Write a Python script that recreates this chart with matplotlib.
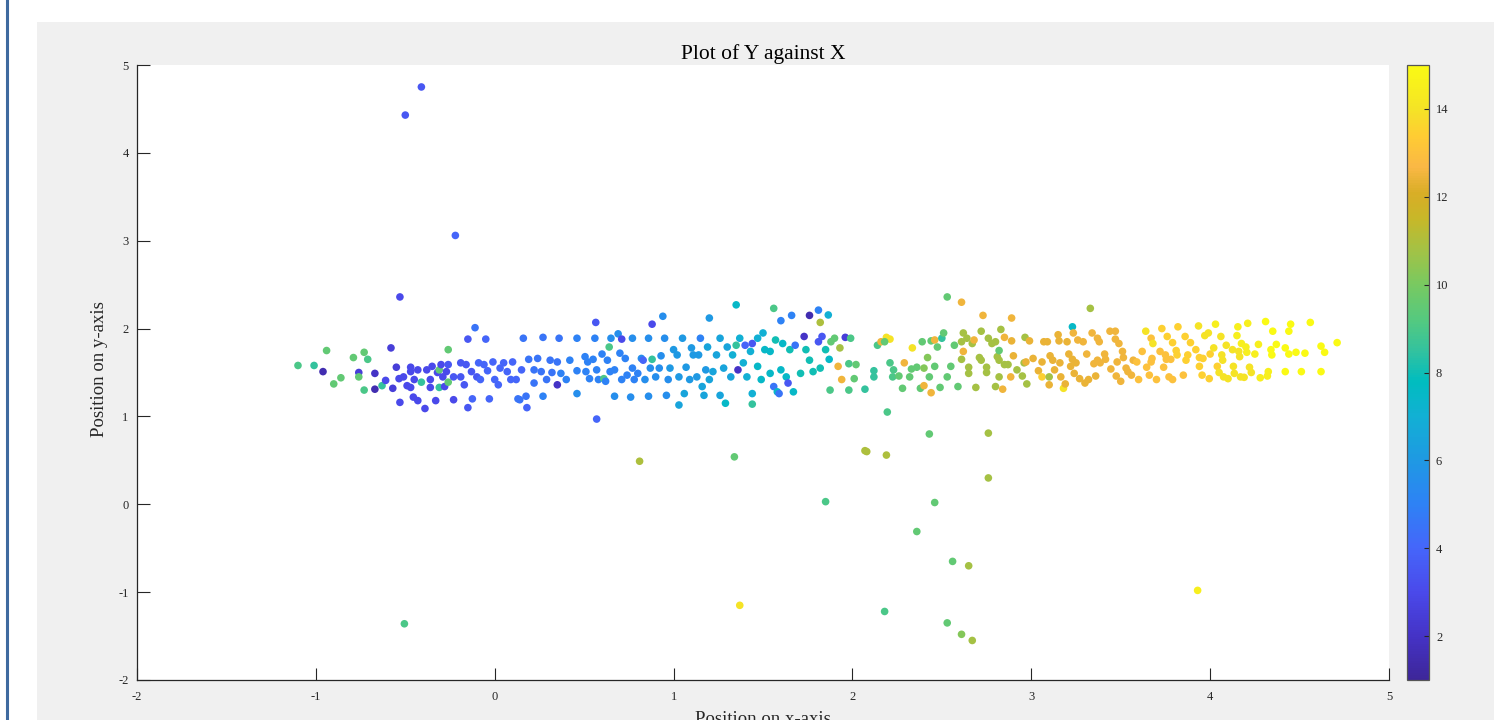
import matplotlib
matplotlib.use("Agg")
import matplotlib.pyplot as plt
from matplotlib.colors import LinearSegmentedColormap
from matplotlib.patches import Rectangle
from matplotlib.lines import Line2D
import numpy as np

plt.rcParams['font.family'] = ['Liberation Serif', 'DejaVu Serif']
plt.rcParams['axes.unicode_minus'] = False

# ---------------- data ----------------
title = "Plot of Y against X"
x_label = "Position on x-axis"
y_label = "Position on y-axis"
x_ticks = [-2, -1, 0, 1, 2, 3, 4, 5]
y_ticks = [-2, -1, 0, 1, 2, 3, 4, 5]
cbar_ticks = [2, 4, 6, 8, 10, 12, 14]

# left part of the band
x_a = [-0.53, -1.10, -1.01, -0.94, -0.96, -0.90, -0.86, -0.79, -0.73, -0.71, -0.76, -0.76, -0.67, -0.67,
       -0.73, -0.63, -0.61, -0.58, -0.57, -0.55, -0.53, -0.535, -0.51, -0.49, -0.47, -0.47, -0.455, -0.43,
       -0.43, -0.47, -0.45, -0.41, -0.39, -0.38, -0.36, -0.36, -0.35, -0.33, -0.32, -0.31, -0.30, -0.31,
       -0.29, -0.28, -0.26, -0.26, -0.26, -0.27, -0.23, -0.23, -0.19, -0.19, -0.17, -0.16, -0.15, -0.15,
       -0.13, -0.125, -0.11, -0.10, -0.09, -0.08, -0.06, -0.05, -0.04, -0.03, -0.01, 0.00, 0.02, 0.03,
       0.05, 0.07, 0.09, 0.10, 0.12, 0.13, 0.14, 0.16, 0.15, 0.175, 0.18, 0.19, 0.22, 0.22, 0.24, 0.27,
       0.27, 0.26, 0.29, 0.31, 0.32, 0.35, 0.35, 0.36, 0.37, 0.40, 0.42, 0.46, 0.46, 0.46]
y_a = [2.36, 1.58, 1.58, 1.75, 1.51, 1.37, 1.44, 1.67, 1.73, 1.65, 1.50, 1.45, 1.49, 1.31,
       1.30, 1.35, 1.41, 1.78, 1.32, 1.56, 1.16, 1.43, 1.45, 1.35, 1.56, 1.51, 1.22, 1.18,
       1.53, 1.33, 1.42, 1.39, 1.09, 1.53, 1.42, 1.33, 1.57, 1.18, 1.50, 1.53, 1.59, 1.33,
       1.45, 1.34, 1.76, 1.59, 1.39, 1.51, 1.19, 1.45, 1.61, 1.45, 1.36, 1.59, 1.88, 1.10,
       1.51, 1.20, 2.01, 1.45, 1.61, 1.42, 1.59, 1.88, 1.52, 1.20, 1.62, 1.42, 1.36, 1.55,
       1.61, 1.51, 1.42, 1.62, 1.42, 1.20, 1.19, 1.89, 1.53, 1.23, 1.10, 1.65, 1.53, 1.38, 1.66, 1.90,
       1.23, 1.51, 1.42, 1.64, 1.50, 1.62, 1.36, 1.89, 1.49, 1.42, 1.64, 1.89, 1.52, 1.26]
c_a = [3, 9, 8.5, 9.5, 1.5, 9.5, 9.5, 9.5, 9.5, 9, 2.5, 9.5, 2, 1.5,
       9, 8.5, 3, 2.5, 2.5, 2.5, 3, 3, 3, 3, 3, 3, 3, 3,
       3, 3, 3, 8.5, 3, 3, 3, 3, 3, 3, 3, 9.5, 3, 8.5,
       3, 3, 9.5, 3.5, 9.5, 3, 3, 3.5, 3.5, 3.5, 3.5, 3.5, 3.5, 3.5,
       3.5, 4, 4.5, 3.5, 4, 4, 4, 4, 4, 4, 4, 4, 4, 4,
       4, 4, 4, 4, 4, 4.5, 4.5, 4.5, 4, 4.5, 4, 4.5, 4.5, 4.5, 4.5, 4.5,
       5, 4.5, 4.5, 4.5, 4.5, 4.5, 2, 4.5, 5, 5, 5, 5, 5, 5.5]

# middle part of the band
x_b = [0.565, 0.57, 0.56, 0.505, 0.52, 0.55, 0.51, 0.53, 0.57, 0.58, 0.61, 0.60, 0.62, 0.63, 0.64,
       0.65, 0.645, 0.67, 0.67, 0.69, 0.70, 0.71, 0.71, 0.73, 0.74, 0.76, 0.77, 0.77, 0.78, 0.80,
       0.82, 0.83, 0.84, 0.86, 0.86, 0.87, 0.88, 0.88, 0.90, 0.92, 0.93, 0.94, 0.95, 0.96, 0.97,
       0.98, 1.00, 1.02, 1.03, 1.03, 1.05, 1.06, 1.07, 1.09, 1.10, 1.11, 1.13, 1.14, 1.15, 1.16,
       1.17, 1.18, 1.19, 1.20, 1.20, 1.22, 1.24, 1.26, 1.26, 1.28, 1.29, 1.30, 1.32, 1.33, 1.35,
       1.35, 1.36, 1.37, 1.39, 1.40, 1.41, 1.43, 1.44, 1.44, 1.44, 1.47, 1.47, 1.49, 1.50, 1.51,
       1.54, 1.54, 1.56, 1.56, 1.57, 1.58, 1.59, 1.60, 1.60, 1.61, 1.63, 1.64, 1.65, 1.66, 1.67,
       1.68, 1.71, 1.73, 1.74, 1.76, 1.76, 1.78, 1.81, 1.81, 1.82, 1.82, 1.83, 1.85, 1.865, 1.87,
       1.875, 1.88, 1.90, 1.92, 1.93, 1.94, 1.96, 1.98, 1.98, 1.99, 2.02, 2.01, 2.14]
y_b = [2.07, 0.97, 1.89, 1.68, 1.62, 1.65, 1.51, 1.43, 1.53, 1.42, 1.43, 1.71, 1.40, 1.64, 1.79,
       1.89, 1.51, 1.53, 1.23, 1.94, 1.72, 1.88, 1.42, 1.66, 1.47, 1.22, 1.89, 1.55, 1.42, 1.49,
       1.66, 1.64, 1.42, 1.89, 1.23, 1.55, 2.05, 1.65, 1.45, 1.55, 1.69, 2.14, 1.89, 1.24, 1.42,
       1.55, 1.76, 1.70, 1.45, 1.13, 1.89, 1.26, 1.56, 1.42, 1.78, 1.70, 1.45, 1.70, 1.89, 1.34,
       1.24, 1.53, 1.79, 2.12, 1.42, 1.51, 1.70, 1.89, 1.24, 1.55, 1.15, 1.79, 1.45, 1.70, 2.27,
       1.81, 1.53, 1.89, 1.61, 1.81, 1.45, 1.74, 1.26, 1.83, 1.14, 1.89, 1.57, 1.42, 1.95, 1.76,
       1.74, 1.49, 1.34, 2.23, 1.87, 1.28, 1.26, 2.09, 1.53, 1.83, 1.45, 1.38, 1.76, 2.15, 1.28,
       1.81, 1.49, 1.91, 1.76, 2.15, 1.64, 1.51, 2.21, 1.85, 1.55, 2.07, 1.91, 1.76, 2.155, 1.65,
       1.30, 1.85, 1.89, 1.57, 1.78, 1.42, 1.90, 1.60, 1.30, 1.89, 1.59, 1.43, 1.81]
c_b = [3.5, 4, 5, 5, 5, 5, 5, 5, 5, 5, 9, 5, 5, 5, 9,
       5.5, 5, 5, 5.5, 5.5, 5, 3, 5, 5, 5, 5.5, 5.5, 5, 5, 5,
       5.5, 4, 5.5, 5.5, 5.5, 5.5, 3, 8.5, 5.5, 5.5, 5.5, 5.5, 5.5, 5.5, 5.5,
       6, 6, 6, 6, 6.5, 6, 6.5, 6, 6, 6, 6, 6, 6, 5, 6.5,
       6.5, 6, 6.5, 6, 6.5, 6.5, 6.5, 6.5, 6.5, 6.5, 7.5, 6.5, 6.5, 7, 7.5,
       8.5, 2, 7, 7, 4, 7, 7, 7, 3.5, 8.5, 7, 7.5, 7.5, 7, 7.5,
       7.5, 7.5, 4.5, 9, 8, 7.5, 4.5, 5, 7.5, 7.5, 7.5, 3.5, 8, 5, 7.5,
       4.5, 8, 2, 8, 1.5, 8, 8, 5, 3.5, 8, 11, 3.5, 8, 7, 7.5,
       9, 9.5, 9.5, 12.5, 10.8, 12.5, 2.5, 9, 9, 9, 9.5, 9.5, 9]

# right-middle part of the band
x_c = [2.53, 2.61, 2.73, 2.89, 3.33, 3.23, 2.16, 2.19, 2.21, 2.18, 2.07, 2.12, 2.12, 2.21, 2.23,
       2.225, 2.26, 2.28, 2.29, 2.32, 2.33, 2.335, 2.36, 2.38, 2.39, 2.40, 2.40, 2.42, 2.43, 2.44,
       2.44, 2.46, 2.46, 2.475, 2.49, 2.50, 2.51, 2.53, 2.55, 2.57, 2.59, 2.61, 2.61, 2.62, 2.62,
       2.64, 2.65, 2.65, 2.67, 2.68, 2.69, 2.71, 2.72, 2.72, 2.75, 2.75, 2.76, 2.78, 2.80, 2.80,
       2.81, 2.82, 2.82, 2.82, 2.83, 2.84, 2.85, 2.85, 2.87, 2.885, 2.89, 2.90, 2.92, 2.95, 2.96,
       2.965, 2.975, 2.97, 2.99, 3.01, 3.04, 3.06, 3.06, 3.07, 3.09, 3.10, 3.105, 3.10, 3.12, 3.13,
       3.15, 3.155, 3.16, 3.165, 3.18, 3.19, 3.20, 3.21, 3.22, 3.23, 3.235, 3.24, 3.25, 3.26, 3.27,
       3.29, 3.30, 3.31, 3.32, 3.34, 3.35, 3.36, 3.37, 3.37, 3.38, 3.385, 3.41, 3.415, 3.44, 3.445,
       3.47, 3.47, 3.475, 3.48, 3.49, 3.50, 3.51, 3.515, 3.53, 3.54, 3.56, 3.57, 3.59, 3.60, 3.62,
       3.64, 3.645, 3.66, 3.67, 3.675, 3.68, 3.70]
y_c = [2.36, 2.30, 2.15, 2.12, 2.23, 2.02, 1.85, 1.90, 1.88, 1.85, 1.31, 1.45, 1.52, 1.61, 1.53,
       1.45, 1.46, 1.32, 1.61, 1.45, 1.54, 1.78, 1.56, 1.32, 1.85, 1.55, 1.35, 1.67, 1.45, 1.27,
       1.86, 1.87, 1.57, 1.79, 1.33, 1.89, 1.95, 1.45, 1.57, 1.81, 1.34, 1.65, 1.85, 1.74, 1.95,
       1.89, 1.56, 1.49, 1.83, 1.87, 1.33, 1.67, 1.97, 1.64, 1.56, 1.50, 1.89, 1.83, 1.85, 1.34,
       1.68, 1.45, 1.75, 1.64, 1.99, 1.31, 1.90, 1.59, 1.59, 1.45, 1.86, 1.69, 1.53, 1.46, 1.61,
       1.90, 1.37, 1.62, 1.86, 1.66, 1.52, 1.62, 1.45, 1.85, 1.85, 1.45, 1.69, 1.36, 1.64, 1.53,
       1.93, 1.86, 1.61, 1.45, 1.32, 1.37, 1.85, 1.71, 1.57, 1.65, 1.95, 1.49, 1.61, 1.87, 1.43,
       1.85, 1.38, 1.71, 1.42, 1.95, 1.60, 1.46, 1.64, 1.89, 1.85, 1.61, 1.71, 1.65, 1.97, 1.54,
       1.97, 1.88, 1.46, 1.62, 1.83, 1.40, 1.74, 1.67, 1.55, 1.51, 1.47, 1.64, 1.62, 1.42, 1.74,
       1.97, 1.56, 1.47, 1.89, 1.66, 1.83, 1.42]
c_c = [9.5, 12.5, 12.5, 12.5, 10.8, 7.5, 12.5, 14, 14, 9.5, 8.5, 8.5, 8.5, 9, 9,
       9, 9.5, 9.5, 12.5, 9.5, 9.5, 14, 9.5, 9.5, 9.5, 10.2, 12.5, 10.2, 9.5, 12.5,
       9.5, 12.5, 9.5, 9.5, 9.5, 8.5, 9.5, 9.5, 9.5, 9.5, 9.5, 10.8, 10.8, 12.5, 10.8,
       10.8, 10.8, 10.8, 10.8, 12.5, 10.8, 10.8, 10.8, 10.8, 10.8, 10.8, 10.8, 10.8, 10.8, 10.8,
       10.8, 10.8, 9.5, 10.8, 10.8, 12.5, 12.5, 10.8, 10.8, 12.5, 12.4, 12.4, 10.8, 10.8, 10.8,
       10.8, 10.8, 12.4, 12.4, 12.4, 12.4, 12.4, 13.5, 12.4, 12.4, 10.8, 12.4, 12.4, 12.4, 12.4,
       12.4, 12.4, 12.4, 12.4, 14, 12.4, 12.4, 12.4, 12.4, 12.4, 12.5, 12.4, 12.4, 12.5, 12.4,
       12.5, 12.4, 12.5, 12.4, 12.5, 12.5, 12.4, 12.5, 12.5, 12.5, 12.5, 12.5, 12.5, 12.5, 12.5,
       12.5, 12.5, 12.5, 12.5, 12.5, 12.5, 12.5, 12.5, 12.5, 12.5, 12.5, 12.5, 13, 13, 13,
       14, 13, 13, 13, 13, 14, 13]

# right end of the band
x_d = [3.67, 3.72, 3.73, 3.74, 3.75, 3.755, 3.76, 3.77, 3.78, 3.79, 3.79, 3.81, 3.815, 3.82, 3.85,
       3.86, 3.865, 3.875, 3.89, 3.92, 3.935, 3.94, 3.94, 3.955, 3.96, 3.97, 3.99, 3.995, 4.00, 4.02,
       4.03, 4.04, 4.05, 4.06, 4.065, 4.07, 4.075, 4.10, 4.09, 4.125, 4.13, 4.135, 4.155, 4.15, 4.16,
       4.165, 4.17, 4.175, 4.19, 4.20, 4.205, 4.21, 4.22, 4.23, 4.25, 4.27, 4.28, 4.31, 4.32, 4.325,
       4.34, 4.345, 4.35, 4.37, 4.42, 4.42, 4.44, 4.44, 4.45, 4.48, 4.51, 4.53, 4.56, 4.62, 4.62,
       4.64, 4.71]
y_d = [1.62, 1.74, 2.00, 1.56, 1.70, 1.65, 1.91, 1.45, 1.65, 1.84, 1.42, 1.75, 1.70, 2.02, 1.47,
       1.91, 1.64, 1.70, 1.84, 1.76, 2.03, 1.67, 1.57, 1.47, 1.66, 1.92, 1.95, 1.43, 1.71, 1.78,
       2.05, 1.57, 1.50, 1.91, 1.70, 1.64, 1.45, 1.43, 1.81, 1.76, 1.57, 1.49, 2.02, 1.92, 1.74,
       1.68, 1.45, 1.83, 1.445, 1.79, 1.73, 2.06, 1.56, 1.50, 1.71, 1.82, 1.44, 2.08, 1.46, 1.51,
       1.76, 1.70, 1.97, 1.82, 1.51, 1.78, 1.71, 1.97, 2.05, 1.73, 1.51, 1.72, 2.07, 1.51, 1.80,
       1.73, 1.84]
c_d = [13, 13, 13.5, 13, 13, 13, 13.5, 13, 13, 13.5, 13, 13.5, 13.5, 13.5, 13,
       13.5, 13.5, 13.5, 13.5, 13.5, 14, 13.5, 13.5, 13.5, 13.5, 14, 14, 13.5, 13.5, 14,
       14.5, 13.5, 14, 14, 14, 14, 14, 14, 14, 14, 14, 14, 14.5, 14.5, 14,
       14, 14, 14.5, 14, 14.5, 14.5, 14.5, 14, 14, 14.5, 14.5, 14.5, 15, 14.5, 14.5,
       15, 15, 15, 15, 15, 15, 15, 15, 15, 15, 15, 15, 15, 15, 15,
       15, 15]

# scattered outliers
x_e = [-0.41, -0.50, -0.22, -0.505, 0.81, 1.34, 1.37, 1.85, 2.195, 2.07, 2.08, 2.19, 2.43, 2.46,
       2.36, 2.18, 2.56, 2.65, 2.53, 2.61, 2.67, 2.76, 2.76, 3.93]
y_e = [4.75, 4.43, 3.06, -1.36, 0.49, 0.54, -1.15, 0.03, 1.05, 0.61, 0.60, 0.56, 0.80, 0.02,
       -0.31, -1.22, -0.65, -0.70, -1.35, -1.48, -1.55, 0.81, 0.30, -0.98]
c_e = [3.5, 3.5, 4, 9, 11, 9.5, 14, 9, 9, 11, 11, 11, 9.5, 9.5,
       9.5, 9, 9.5, 10.8, 9.5, 10.2, 10.8, 10.8, 10.8, 14.5]

# colour scale as seen on the reference colour bar (value -> RGB)
cmap_values = [1.0, 2.0, 3.0, 4.0, 5.0, 6.0, 7.0, 7.8, 8.5, 9.2, 10.0, 10.8, 11.5, 12.1, 12.7, 13.4, 14.0, 15.0]
cmap_colors = [(0.24, 0.15, 0.60), (0.27, 0.20, 0.78), (0.29, 0.29, 0.92), (0.27, 0.40, 0.98),
               (0.18, 0.51, 0.96), (0.12, 0.60, 0.89), (0.07, 0.69, 0.83), (0.00, 0.74, 0.75),
               (0.20, 0.76, 0.62), (0.33, 0.79, 0.50), (0.47, 0.79, 0.38), (0.64, 0.76, 0.27),
               (0.78, 0.72, 0.16), (0.85, 0.68, 0.15), (0.98, 0.72, 0.27), (1.00, 0.80, 0.20),
               (0.96, 0.89, 0.15), (0.98, 0.98, 0.08)]
c_min, c_max = 1, 15

# ---------------- drawing ----------------
parula = LinearSegmentedColormap.from_list(
    "parula_ref",
    [((v - c_min) / (c_max - c_min), col) for v, col in zip(cmap_values, cmap_colors)])

W, H = 1494, 720
fig = plt.figure(figsize=(W / 100, H / 100), dpi=100, facecolor='white')
fig.patches.append(Rectangle((37 / W, 0), 1, (H - 22) / H, transform=fig.transFigure,
                             facecolor='#f0f0f0', edgecolor='none', zorder=-10))
fig.lines.append(Line2D([6.5 / W, 6.5 / W], [0, 1], transform=fig.transFigure,
                        color='#3f6a9f', lw=2.2))

dark = '#262626'
ax = fig.add_axes([137 / W, 40 / H, 1252 / W, 615 / H])
ax.set_facecolor('white')

xs = np.concatenate([x_a, x_b, x_c, x_d, x_e])
ys = np.concatenate([y_a, y_b, y_c, y_d, y_e])
cs = np.concatenate([c_a, c_b, c_c, c_d, c_e])
sc = ax.scatter(xs, ys, c=cs, cmap=parula, vmin=c_min, vmax=c_max, s=30, linewidths=0)

ax.set_xlim(-2, 5)
ax.set_ylim(-2, 5)
ax.set_xticks(x_ticks)
ax.set_yticks(y_ticks)
for s in ['top', 'right']:
    ax.spines[s].set_visible(False)
for s in ['left', 'bottom']:
    ax.spines[s].set_color(dark)
    ax.spines[s].set_linewidth(0.9)
ax.tick_params(direction='in', length=9, width=0.8, colors=dark, labelsize=9)
ax.tick_params(axis='x', pad=8)
ax.tick_params(axis='y', pad=6)

ax.set_title(title, fontsize=15.5, color='black', pad=4)
ax.set_xlabel(x_label, fontsize=13.5, color=dark)
ax.xaxis.set_label_coords(0.5, -0.0505)
ax.xaxis.label.set_va('top')
ax.set_ylabel(y_label, fontsize=13.5, color=dark)
ax.yaxis.set_label_coords(-0.0235, 0.506)

cax = fig.add_axes([1407 / W, 40 / H, 22 / W, 615 / H])
cb = fig.colorbar(sc, cax=cax, ticks=cbar_ticks)
cb.outline.set_edgecolor('#555555')
cb.outline.set_linewidth(0.9)
cb.ax.tick_params(direction='in', length=3.6, width=0.8, colors=dark, labelsize=9, pad=5)

fig.savefig("out.png", dpi=100, facecolor=fig.get_facecolor())
